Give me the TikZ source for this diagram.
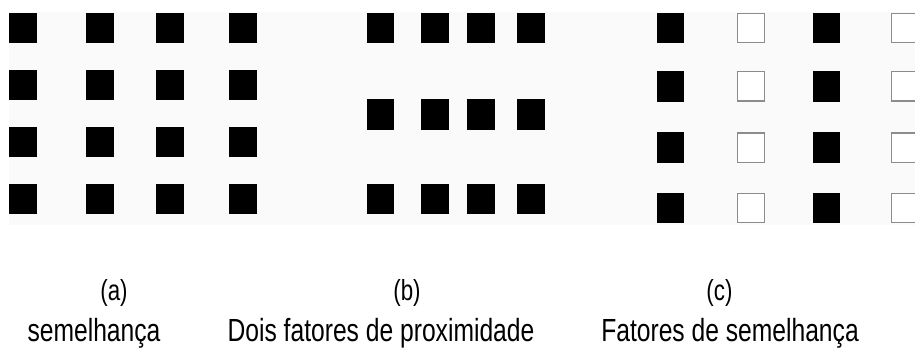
\documentclass[tikz,border=0pt]{standalone}
\usepackage{fontspec}
\setmainfont[FakeStretch=0.77]{Liberation Sans}
\usepackage{tikz}

\begin{document}
\begin{tikzpicture}[x=1pt,y=-1pt,
        lbl/.style={anchor=base,font=\fontsize{29}{34}\selectfont},
        capt/.style={anchor=base,font=\fontsize{32}{38}\selectfont},
        hol/.style={draw=black!45,line width=1.4pt,fill=white}]
        \clip (0,0) rectangle (915,350);
        \fill[white] (0,0) rectangle (915,350);
        \fill[black!2] (9,12) rectangle (915,225);
        % (a) even grid
        \foreach \X in {9,86,156,229}
        \foreach \Y in {12.7,70,127,184}
        \fill[black] (\X,\Y) rectangle ++(28,30);
        % (b) proximity
        \foreach \X in {366.7,421,467,517}
        \foreach \Y in {12.7,99.3,183.7}
        \fill[black] (\X,\Y) rectangle ++(27.7,30.3);
        % (c) similarity
        \foreach \Y in {12.7,71,132.3,192.7} {
        \foreach \X in {657,812.7}
        \fill[black] (\X,\Y) rectangle ++(27.3,30.7);
        \foreach \X in {737,890.7}
        \draw[hol] (\X+0.7,\Y+0.7) rectangle ++(26.9,29.3);
        }
        \foreach \Pos/\Name/\Lab in {(114,300)/la/(a), (407,300)/lb/(b), (719.5,300)/lc/(c)}
        \node[lbl] (\Name) at \Pos {\Lab};
        \foreach \Pos/\Name/\Lab in {(94,341)/ta/semelhança, (381,341)/tb/Dois fatores de proximidade, (730,341)/tc/Fatores de semelhança}
        \node[capt] (\Name) at \Pos {\Lab};
\end{tikzpicture}
\end{document}
